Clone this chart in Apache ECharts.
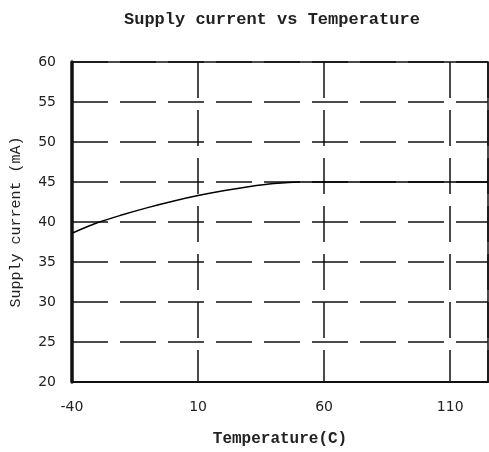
<!DOCTYPE html>
<html>
<head>
<meta charset="utf-8">
<title>Supply current vs Temperature</title>
<script src="https://cdn.jsdelivr.net/npm/echarts@6/dist/echarts.min.js"></script>
<style>
  html, body { margin: 0; padding: 0; background: #fff; }
  /* 图表容器 */
  #chart { width: 489px; height: 452px; }
</style>
</head>
<body>
<div id="chart"></div>
<script>
// 数据
var temps = [-40, -30, -20, -10, 0, 10, 20, 30, 40, 50, 60, 70, 80, 90, 100, 110, 120, 125];
var current = [38.6, 39.9, 40.9, 41.8, 42.6, 43.3, 43.9, 44.4, 44.8, 45.0, 45, 45, 45, 45, 45, 45, 45, 45];

var titleText = 'Supply current vs Temperature';
var xName = 'Temperature(C)';
var yName = 'Supply current (mA)';

var monoFont = 'Liberation Mono';
var tickFont = 'DejaVu Sans';

var myChart = echarts.init(document.getElementById('chart'));

var points = temps.map(function (t, i) { return [t, current[i]]; });

var option = {
  animation: false,
  title: {
    text: titleText,
    left: 119,
    top: 6,
    textStyle: {
      fontFamily: monoFont,
      fontSize: 17,
      fontWeight: 'bold',
      color: '#222'
    }
  },
  grid: {
    left: 72,
    top: 62,
    right: 1,
    bottom: 66,
    show: true,
    borderColor: '#111',
    borderWidth: 1.5
  },
  xAxis: {
    type: 'value',
    min: -40,
    max: 125,
    interval: 50,
    name: xName,
    nameLocation: 'middle',
    nameGap: 49,
    nameTextStyle: {
      fontFamily: monoFont,
      fontSize: 16,
      fontWeight: 'bold',
      color: '#222'
    },
    axisLine: { show: true, onZero: false, lineStyle: { color: '#111', width: 2 } },
    axisTick: { show: false },
    axisLabel: {
      showMaxLabel: false,
      margin: 18,
      fontFamily: tickFont,
      fontSize: 14,
      color: '#222'
    },
    splitLine: {
      show: true,
      lineStyle: { color: '#111', width: 1.5, type: [36, 12] }
    }
  },
  yAxis: {
    type: 'value',
    min: 20,
    max: 60,
    interval: 5,
    name: yName,
    nameLocation: 'middle',
    nameGap: 48,
    nameTextStyle: {
      fontFamily: monoFont,
      fontSize: 15,
      color: '#222'
    },
    axisLine: { show: true, onZero: false, lineStyle: { color: '#111', width: 3.5 } },
    axisTick: { show: false },
    axisLabel: {
      margin: 16,
      fontFamily: tickFont,
      fontSize: 14,
      color: '#222'
    },
    splitLine: {
      show: true,
      lineStyle: { color: '#111', width: 1.5, type: [36, 12] }
    }
  },
  series: [{
    type: 'line',
    data: points,
    smooth: 0.3,
    symbol: 'none',
    lineStyle: { color: '#000', width: 1.5 }
  }]
};

myChart.setOption(option);
</script>
</body>
</html>
